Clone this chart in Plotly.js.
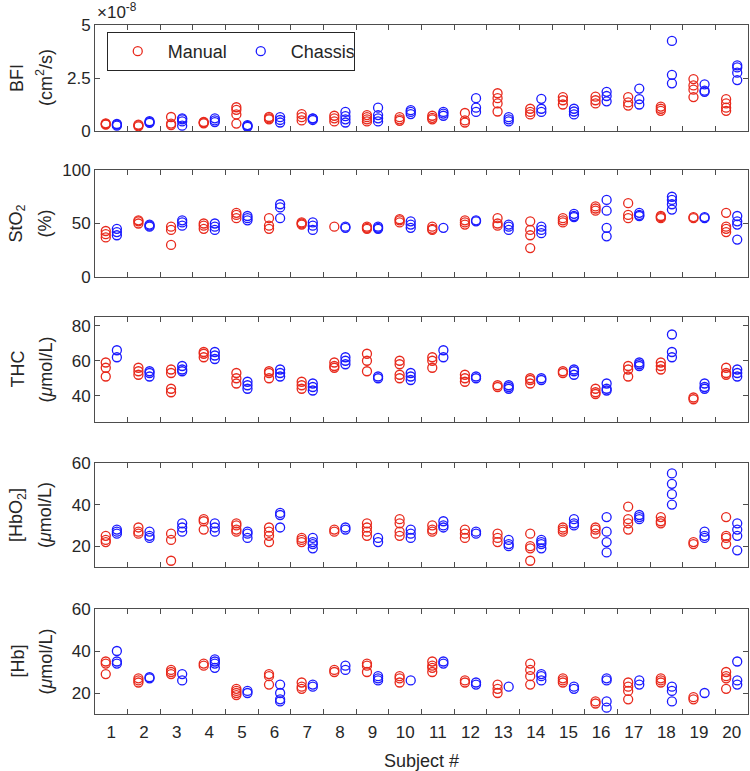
<!DOCTYPE html>
<html>
<head>
<meta charset="utf-8">
<script src="https://cdn.plot.ly/plotly-3.0.1.min.js"></script>
<style>html,body{margin:0;padding:0;background:#fff;}#chart{width:750px;height:771px;}</style>
</head>
<body>
<div id="chart"></div>
<script>
// Subjects
const subjects = [1,2,3,4,5,6,7,8,9,10,11,12,13,14,15,16,17,18,19,20];
const subjectLabels = subjects.map(String);

// BFI values in units of 1e-8 cm^2/s (one list of repeated measurements per subject)
const bfiManual = [
 [0.30,0.33,0.36],[0.22,0.27,0.30],[0.28,0.35,0.66],[0.36,0.40,0.43],[0.35,0.78,1.00,1.12],
 [0.55,0.60,0.66],[0.50,0.65,0.80],[0.45,0.60,0.72],[0.45,0.55,0.65,0.75],[0.48,0.55,0.65],
 [0.55,0.62,0.72],[0.40,0.50,0.85],[0.92,1.30,1.55,1.78],[0.78,0.90,1.05],[1.25,1.45,1.60],
 [1.30,1.45,1.62],[1.20,1.35,1.60],[0.95,1.05,1.15],[1.60,1.95,2.15,2.45],[0.95,1.10,1.30,1.50]];
const bfiChassis = [
 [0.25,0.30,0.33],[0.38,0.42,0.46],[0.25,0.45,0.55,0.60],[0.42,0.50,0.60],[0.20,0.24,0.28],
 [0.40,0.52,0.65],[0.52,0.58,0.60],[0.40,0.55,0.70,0.90],[0.45,0.60,0.75,1.10],[0.80,0.90,0.98],
 [0.72,0.82,0.90],[0.90,1.10,1.55],[0.45,0.55,0.65],[0.90,1.05,1.52],[0.78,0.92,1.05],
 [1.40,1.65,1.85],[1.25,1.50,2.00],[2.25,2.65,4.25],[1.85,1.90,2.20],[2.40,2.75,3.00,3.10]];

// StO2 (%)
const stoManual = [
 [37,40,43],[50,52,53],[30,44,47],[45,48,50],[55,58,60],[45,48,55],[49,50,51],[47],[45,46,47],[51,53,54],
 [44,45,47],[49,51,53],[48,50,55],[27,39,44,52],[51,53,55],[62,64,66],[55,58,69],[55,56,57],[55,56],[42,45,47,60]];
const stoChassis = [
 [39,42,45],[47,48,49],[48,51,53],[44,47,50],[53,55,57],[55,65,68],[44,48,51],[46,47],[45,46,47],[46,49,52],
 [46],[52,53],[44,47,49],[41,44,47],[56,57,59],[38,46,62,72],[57,58,60],[63,68,72,75],[55,56],[35,49,52,57]];

// THC (umol/L)
const thcManual = [
 [51,56,59],[52,54,56],[42,44,53,55],[62,64,65],[47,50,53],[50,53,54],[44,46,48],[56,57,59],[54,60,64],[50,52,58,60],
 [56,60,62],[48,50,52],[45,46],[47,49,50],[53,54],[41,42,44],[51,55,57],[55,57,59],[38,39],[52,53,56]];
const thcChassis = [
 [62,66],[51,53,54],[54,55,57],[61,63,65],[44,46,48],[51,53,55],[43,45,47],[58,60,62],[50,51],[49,51,53],
 [62,66],[50,51],[44,45,46],[49,50],[52,54,55],[43,44,47],[57,58,59],[62,65,75],[44,45,47],[51,53,55]];

// [HbO2] (umol/L)
const hbo2Manual = [
 [22,23,25],[26,27,29],[13,23,26],[28,32,33],[27,28,30,31],[22,25,27,29],[22,23,24],[27,28],[25,27,29,31],[25,27,31,33],
 [27,28,30],[24,26,28],[22,24,26],[13,19,20,26],[27,28,29],[26,28,29],[28,31,33,39],[31,32,34],[21,22],[21,24,25,34]];
const hbo2Chassis = [
 [26,27,28],[24,25,27],[27,29,31],[27,29,31],[24,26,27],[29,35,36],[19,21,22,24],[28,29],[22,24],[24,26,28],
 [29,30,32],[26,27],[20,21,23],[19,21,22,23],[30,31,33],[17,22,27,34],[33,34,35],[40,45,50,55],[24,25,27],[18,25,28,31]];

// [Hb] (umol/L)
const hbManual = [
 [29,34,35],[25,26,27],[29,30,31],[33,34],[19,20,21,22],[24,28,29],[22,23,25],[30,31],[30,33,34],[25,27,28],
 [30,32,33,35],[25,26],[20,22,24],[24,28,31,34],[25,26,27],[15,16],[17,21,23,25],[25,26,27],[17,18],[22,27,28,30]];
const hbChassis = [
 [34,35,40],[27,27.5],[26,29],[32,34,35,36],[20,21],[16,17,20,24],[23,24],[31,33],[26,27,28],[26],
 [34,35],[24,25],[23],[26,28,29],[22,23],[13,16,26,27],[24,26],[16,21,23],[20],[24,26,35]];

const seriesNames = ['Manual','Chassis'];
const yTitleLine1 = ['BFI','StO<sub>2</sub>','THC','[HbO<sub>2</sub>]','[Hb]'];
const yTitleLine2 = ['(cm<sup>2</sup>/s)','(%)','(<i>μ</i>mol/L)','(<i>μ</i>mol/L)','(<i>μ</i>mol/L)'];
const yTickVals = [[0,2.5,5],[0,50,100],[40,60,80],[20,40,60],[20,40,60]];
const yTickText = [['0','2.5','5'],['0','50','100'],['40','60','80'],['20','40','60'],['20','40','60']];
const yRanges = [[0,5],[0,100],[25,85],[10,60],[10,60]];

// ---- styling / layout ----
const RED = '#e8291c', BLUE = '#1a1aff';
const FONT = '"Liberation Sans", Arial, sans-serif';
const TXT = '#262626', AX = '#4d4d4d';
const offsets = [-0.17, 0.17];
const panels = [[bfiManual,bfiChassis],[stoManual,stoChassis],[thcManual,thcChassis],[hbo2Manual,hbo2Chassis],[hbManual,hbChassis]];
const colors = [RED, BLUE];

// pixel geometry of panels (top, bottom) converted to paper fractions
const mT = 25, mB = 57, H = 771;
const plotH = H - mT - mB;
const pix = [[25,131],[170,277],[317,422],[463,567],[609,714]];
const domains = pix.map(([t,b]) => [ (H-mB-b)/plotH, (H-mB-t)/plotH ]);

const traces = [];
panels.forEach((pair, p) => {
  pair.forEach((vals, s) => {
    const xs = [], ys = [];
    vals.forEach((arr, i) => arr.forEach(v => { xs.push(subjects[i] + offsets[s]); ys.push(v); }));
    traces.push({
      type: 'scatter', mode: 'markers', x: xs, y: ys, name: seriesNames[s],
      xaxis: 'x' + (p === 0 ? '' : p+1), yaxis: 'y' + (p === 0 ? '' : p+1),
      showlegend: p === 0, hoverinfo: 'x+y',
      marker: {symbol: 'circle-open', size: 9, color: colors[s], line: {width: 1.3, color: colors[s]}}
    });
  });
});
// empty trace for the subject-label axis
traces.push({type:'scatter', x:[], y:[], xaxis:'x6', yaxis:'y5', showlegend:false, hoverinfo:'skip'});

const halves = [];
for (let k = 0; k <= subjects.length; k++) halves.push(subjects[0] - 0.5 + k);

const annotations = [{xref:'paper', yref:'paper', x:0, y:1, xanchor:'left', yanchor:'bottom', yshift:1, showarrow:false,
                 text:'×10<sup>-8</sup>', font:{size:17, color:TXT}}];
for (let p = 0; p < 5; p++) {
  const yc = (domains[p][0] + domains[p][1]) / 2;
  annotations.push({xref:'paper', yref:'paper', x:0, y:yc, xanchor:'center', yanchor:'middle', xshift:-78,
    textangle:-90, showarrow:false, text:yTitleLine1[p], font:{size:18, color:TXT}});
  annotations.push({xref:'paper', yref:'paper', x:0, y:yc, xanchor:'center', yanchor:'middle', xshift:-50,
    textangle:-90, showarrow:false, text:yTitleLine2[p], font:{size:18, color:TXT}});
}

const layout = {
  width: 750, height: 771,
  margin: {l: 95, r: 2, t: mT, b: mB},
  paper_bgcolor: '#fff', plot_bgcolor: '#fff',
  font: {family: FONT, size: 17, color: TXT},
  showlegend: true,
  legend: {orientation: 'h', x: 0.018, xanchor: 'left', y: (H-mB-32)/plotH, yanchor: 'top',
           itemwidth: 50, entrywidth: 58, entrywidthmode: 'pixels',
           bgcolor: '#fff', bordercolor: TXT, borderwidth: 1, font: {size: 18, color: TXT}},
  annotations: annotations
};

for (let p = 0; p < 5; p++) {
  const xk = 'xaxis' + (p === 0 ? '' : p+1);
  const yk = 'yaxis' + (p === 0 ? '' : p+1);
  const yref = 'y' + (p === 0 ? '' : p+1);
  const xref = 'x' + (p === 0 ? '' : p+1);
  layout[xk] = {
    domain: [0,1], anchor: yref, range: [0.5, 20.5],
    tickmode: 'array', tickvals: halves,
    ticks: 'inside', ticklen: 5, tickcolor: AX, tickwidth: 1,
    showline: true, linecolor: AX, linewidth: 1, mirror: 'ticks',
    showgrid: false, zeroline: false, showticklabels: false, fixedrange: true
  };
  layout[yk] = {
    domain: domains[p], anchor: xref, range: yRanges[p],
    tickmode: 'array', tickvals: yTickVals[p], ticktext: yTickText[p],
    ticks: 'inside', ticklen: 5, tickcolor: AX, tickwidth: 1,
    showline: true, linecolor: AX, linewidth: 1, mirror: 'ticks',
    showgrid: false, zeroline: false, tickfont: {size: 17, color: TXT}, fixedrange: true
  };
}
layout.xaxis6 = {
  overlaying: 'x5', anchor: 'y5', side: 'bottom', range: [0.5, 20.5],
  tickmode: 'array', tickvals: subjects, ticktext: subjectLabels, ticks: '',
  ticklabelstandoff: 6,
  showline: false, showgrid: false, zeroline: false,
  tickfont: {size: 17, color: TXT},
  title: {text: 'Subject #', font: {size: 18, color: TXT}, standoff: 14}
};

Plotly.newPlot('chart', traces, layout, {displayModeBar: false, staticPlot: true});
</script>
</body>
</html>
